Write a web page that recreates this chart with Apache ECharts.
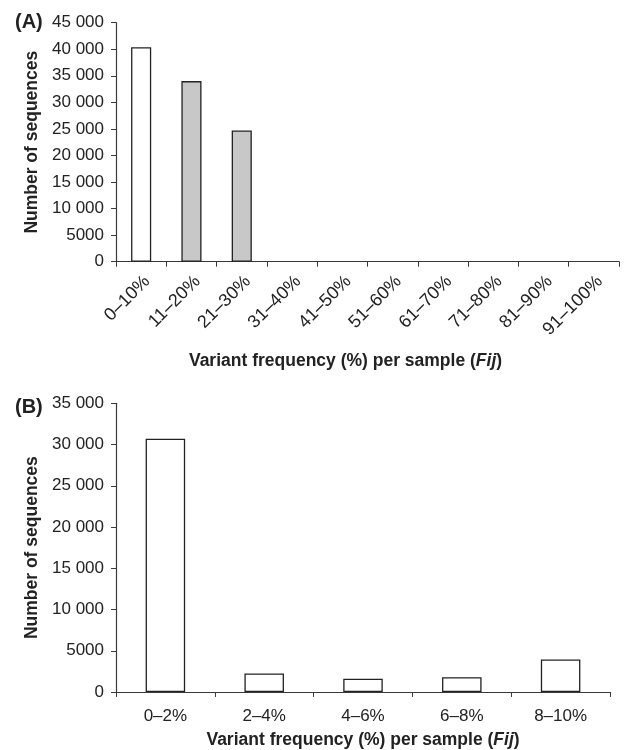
<!DOCTYPE html>
<html>
<head>
<meta charset="utf-8">
<script src="https://cdn.jsdelivr.net/npm/echarts@6/dist/echarts.min.js"></script>
<style>
html,body{margin:0;padding:0;background:#fff;}
#c{width:625px;height:750px;}
</style>
</head>
<body>
<div id="c"></div>
<script>
// Panel A
const catsA = ['0–10%','11–20%','21–30%','31–40%','41–50%','51–60%','61–70%','71–80%','81–90%','91–100%'];
const valsA = [40400, 34000, 24700, 0, 0, 0, 0, 0, 0, 0];
const ticksA = { min: 0, max: 45000, interval: 5000 };
// Panel B
const catsB = ['0–2%','2–4%','4–6%','6–8%','8–10%'];
const valsB = [30700, 2250, 1600, 1800, 3950];
const ticksB = { min: 0, max: 35000, interval: 5000 };

const yTitle = 'Number of sequences';
const xTitle = '{b|Variant frequency (%) per sample (}{i|Fij}{b|)}';

const FONT = 'Liberation Sans, Arial, Helvetica, sans-serif';
const AX = '#3a3a3a';

function fmt(v){
  if (v >= 10000) { const s = String(v); return s.slice(0, s.length-3) + ' ' + s.slice(-3); }
  return String(v);
}
// empty bins draw no bar outline
const noZero = arr => arr.map(v => v === 0 ? '-' : v);

const nameRich = {
  b: {fontFamily: FONT, fontWeight: 'bold', fontSize: 17.5, color: '#222'},
  i: {fontFamily: FONT, fontWeight: 'bold', fontStyle: 'italic', fontSize: 17.5, color: '#222'}
};

function yAxis(idx, t){
  return {
    type: 'value', gridIndex: idx, min: t.min, max: t.max, interval: t.interval,
    splitLine: {show: false},
    axisLine: {show: true, lineStyle: {color: AX, width: 1.2}},
    axisTick: {show: true, length: 5, lineStyle: {color: AX}},
    axisLabel: {formatter: fmt, fontFamily: FONT, fontSize: 17, color: '#222', margin: 12},
    name: yTitle, nameLocation: 'middle', nameGap: 75,
    nameTextStyle: {fontFamily: FONT, fontWeight: 'bold', fontSize: 17.5, color: '#222'}
  };
}

const chart = echarts.init(document.getElementById('c'));
chart.setOption({
  backgroundColor: '#fff',
  animation: false,
  grid: [
    {left: 116, top: 22.7, right: 6, height: 239},
    {left: 116, top: 403.3, right: 15, height: 291}
  ],
  xAxis: [
    {
      type: 'category', gridIndex: 0, data: catsA,
      axisLine: {lineStyle: {color: AX, width: 1.2}},
      axisTick: {show: true, length: 5, lineStyle: {color: AX}},
      axisLabel: {
        rotate: 45, interval: 0, margin: 11,
        formatter: v => '{r|' + v + '}',
        rich: {r: {fontFamily: FONT, fontSize: 18, color: '#222', padding: [17, 0, 0, 0]}}
      },
      name: xTitle, nameLocation: 'middle', nameGap: 90,
      nameTextStyle: {rich: nameRich, padding: [0, 44, 0, 0]}
    },
    {
      type: 'category', gridIndex: 1, data: catsB,
      axisLine: {lineStyle: {color: AX, width: 1.2}},
      axisTick: {show: true, length: 5, lineStyle: {color: AX}},
      axisLabel: {interval: 0, fontFamily: FONT, fontSize: 17, color: '#222', margin: 16},
      name: xTitle, nameLocation: 'middle', nameGap: 39,
      nameTextStyle: {rich: nameRich}
    }
  ],
  yAxis: [yAxis(0, ticksA), yAxis(1, ticksB)],
  series: [
    {
      type: 'bar', xAxisIndex: 0, yAxisIndex: 0, data: noZero(valsA), barWidth: '40%',
      itemStyle: {
        color: p => p.dataIndex === 0 ? '#ffffff' : '#c8c8c8',
        borderColor: '#222', borderWidth: 1.3
      }
    },
    {
      type: 'bar', xAxisIndex: 1, yAxisIndex: 1, data: noZero(valsB), barWidth: '40%',
      itemStyle: {color: '#ffffff', borderColor: '#222', borderWidth: 1.3}
    }
  ],
  graphic: [
    {type: 'text', left: 15, top: 12, style: {text: '(A)', fontFamily: FONT, fontWeight: 'bold', fontSize: 20, fill: '#222'}},
    {type: 'text', left: 15, top: 397, style: {text: '(B)', fontFamily: FONT, fontWeight: 'bold', fontSize: 20, fill: '#222'}}
  ]
});
</script>
</body>
</html>
